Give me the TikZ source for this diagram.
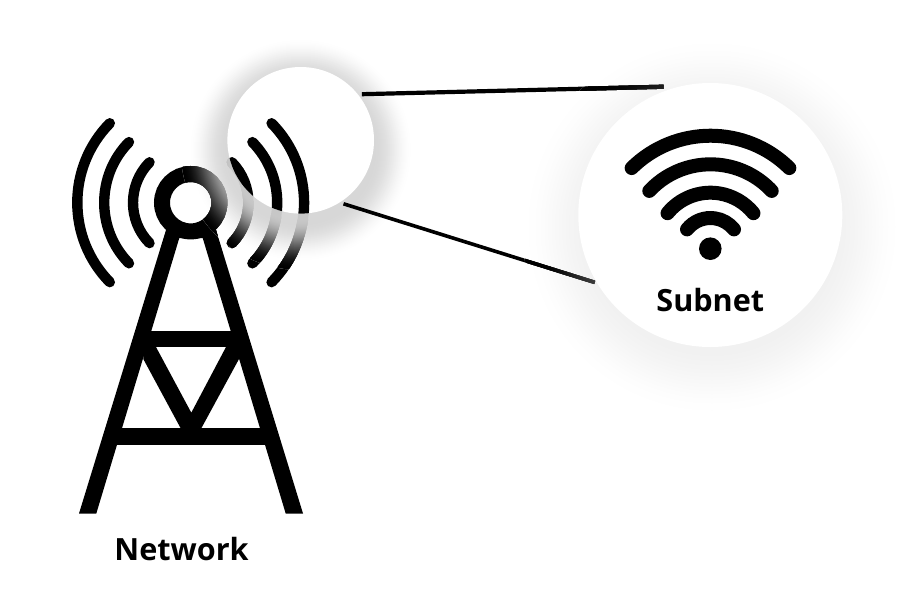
\documentclass[tikz,border=0pt]{standalone}
\usepackage{fontspec}
\setmainfont{Open Sans}
\pgfdeclarelayer{front}
\pgfdeclarelayer{back}
\pgfsetlayers{back,main,front}
\tikzset{
  wave/.style={line width=10.4pt,line cap=round},
  wifi/.style={line width=14pt,line cap=round},
  linka/.style={line width=4.2pt},
  linkb/.style={line width=3.6pt},
  disc/.style={circle,fill=white,inner sep=0pt},
  caption/.style={font=\fontsize{30.6}{36}\selectfont\bfseries,text=black},
}
% the parts of the tower that the lens shadow falls on
\newcommand{\rightwaves}[1]{%
  \foreach \r/\a in {113.4/44.5,86.5/44.5,57.7/44.5}{
    \draw[wave,#1] (190.7,202.7) ++(-\a:\r) arc[start angle=-\a,end angle=\a,radius=\r];
  }}
\newcommand{\towerring}[1]{\draw[line width=16pt,#1] (190.7,202.7) circle[radius=28.7];}
\newcommand{\towermast}[1]{\fill[#1] (79,513.5) -- (96.3,513.5) -- (179.3,238) -- (202.7,238) -- (285.7,513.5) -- (303,513.5) -- (216,230) -- (166,230) -- cycle;}
\newcommand{\linkone}[1]{\draw[linka,#1] (lens.37) -- (subnetdisc.110);}
\newcommand{\linktwo}[1]{\draw[linkb,shorten >=-4pt,#1] (lens.-56.7) -- (subnetdisc.209.4);}
% soft shadow: opaque discs for the ground, then the covered content redrawn ring by ring
% #1 centre, #2 outer radius of the whole effect, #3 background full radius, #4 background zero radius,
% #5 background shadow grey drop, #6 foreground full radius, #7 foreground zero radius, #8 foreground grey peak,
% #9 content redrawn in the shaded colour
\newcommand{\softshadow}[9]{%
  \pgfmathtruncatemacro{\shadowsteps}{2*(#2-min(#3,#6))}%
  \foreach \i in {1,...,\shadowsteps}{%
    \pgfmathsetmacro{\rad}{#2-(\i-1)/2}%
    \pgfmathsetmacro{\tb}{max(0,min(1,(\rad-#3)/(#4-#3)))}%
    \pgfmathsetmacro{\bgv}{1-#5*(1-\tb*\tb*(3-2*\tb))}%
    \definecolor{shadebg}{gray}{\bgv}%
    \fill[shadebg] #1 circle[radius=\rad];
  }%
  \foreach \i in {1,...,\shadowsteps}{%
    \pgfmathsetmacro{\rad}{#2-(\i-1)/2}%
    \pgfmathsetmacro{\rin}{\i==\shadowsteps ? 0 : \rad-1.5}%
    \pgfmathsetmacro{\tf}{max(0,min(1,(\rad-0.5-#6)/(#7-#6)))}%
    \pgfmathsetmacro{\fgv}{#8*(1-\tf*\tf*(3-2*\tf))}%
    \definecolor{shadefg}{gray}{\fgv}%
    \begin{scope}[even odd rule]
      \clip #1 circle[radius=\rad] #1 circle[radius=\rin];
      #9
    \end{scope}
  }%
}
\begin{document}
\begin{tikzpicture}[x=1pt,y=1pt,yscale=-1]
\useasboundingbox (0,0) rectangle (900,600);
\begin{pgfonlayer}{front}
  \node[disc,minimum size=146.6pt,outer sep=3.3pt] (lens) at (300.7,140.3) {};
  \node[disc,minimum size=264pt,outer sep=4.5pt] (subnetdisc) at (710.3,215) {};
  % the waves stay black inside the lens
  \begin{scope}
    \clip (300.7,140.3) circle[radius=73.3];
    \rightwaves{black}
  \end{scope}
  % wifi symbol
  \foreach \r/\a in {112.3/44.6,83.7/47,55.3/51,30/51.6}{
    \draw[wifi] (710.5,248) ++(270-\a:\r) arc[start angle=270-\a,end angle=270+\a,radius=\r];
  }
  \fill (710.3,248.7) circle[radius=11.3];
  \node[caption] (subnetlabel) at (710.3,300.5) {Subnet};
  \node[caption] (networklabel) at (181.5,549) {Network};
\end{pgfonlayer}
\begin{pgfonlayer}{back}
  \fill[white] (0,0) rectangle (900,600);
  \towermast{black}
  \fill (140,331) rectangle (242,347);
  \fill (110,428.3) rectangle (272,444.7);
  \fill (143.3,359) -- (180.7,428.3) -- (201.3,428.3) -- (239,359) -- (239,347) -- (226,347) -- (191.3,412.7) -- (156,347) -- (143.3,347) -- cycle;
  \towerring{black}
  % waves, left and right
  \foreach \r/\a in {113.4/44.5,86.5/44.5,57.7/44.5}{
    \draw[wave] (190.7,202.7) ++(180-\a:\r) arc[start angle=180-\a,end angle=\a+180,radius=\r];
  }
  \rightwaves{black}
  % lens shadow falls on the tower
  \softshadow{(300.7,150)}{120}{74}{112}{0.155}{70}{120}{0.78}{\towermast{shadefg}\towerring{shadefg}\rightwaves{shadefg}}
\end{pgfonlayer}
% big disc shadow falls on the connectors
\linkone{black}
\linktwo{black}
\softshadow{(712,227)}{190}{120}{190}{0.055}{120}{175}{0.25}{\linkone{shadefg}\linktwo{shadefg}}
\end{tikzpicture}
\end{document}
